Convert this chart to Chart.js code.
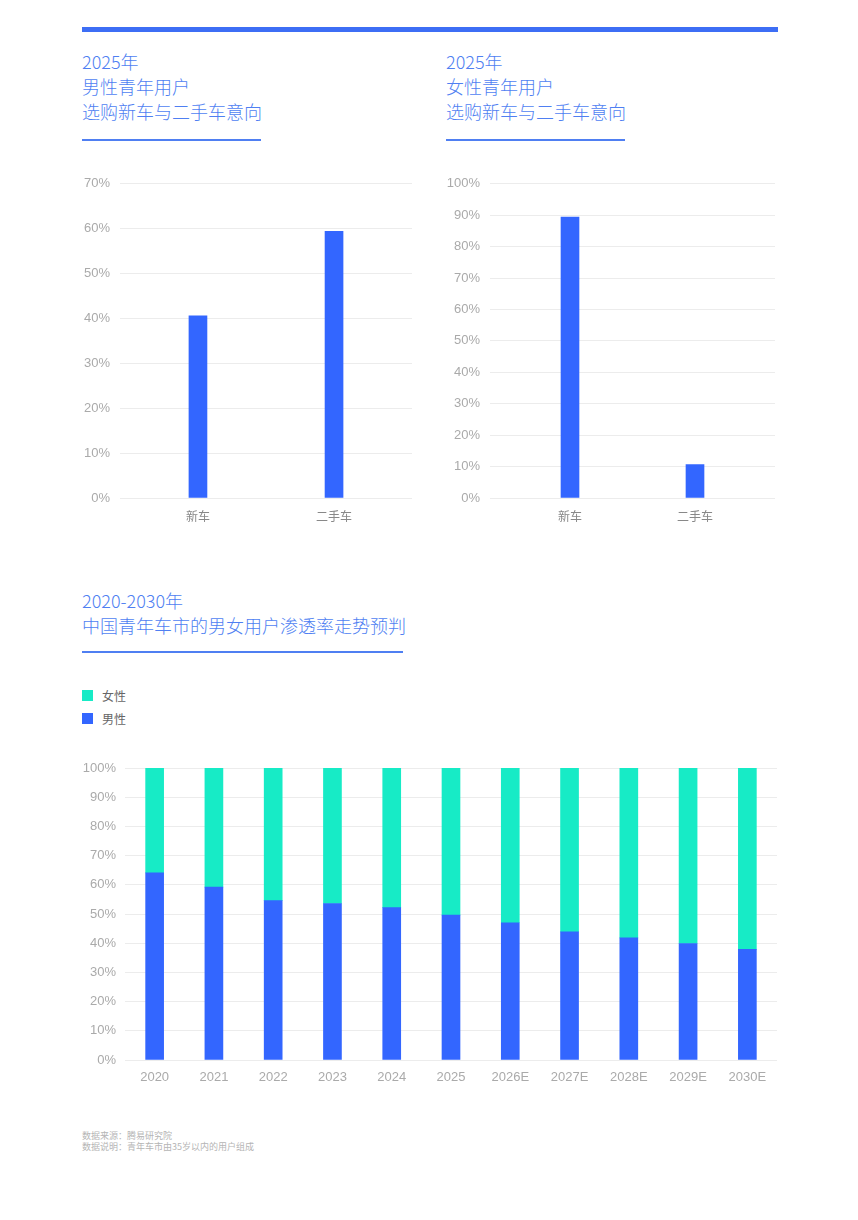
<!DOCTYPE html>
<html>
<head>
<meta charset="utf-8">
<script src="https://cdn.jsdelivr.net/npm/chart.js@4.4.1/dist/chart.umd.min.js"></script>
<style>
  html, body { margin: 0; padding: 0; background: #fff; }
  body { width: 858px; height: 1220px; position: relative; overflow: hidden;
         font-family: "Noto Sans CJK SC", "Noto Sans", sans-serif; }
  .topbar { position: absolute; left: 82px; top: 27px; width: 696px; height: 5px; background: #3d6ef5; }
  .title { position: absolute; color: #4f7ff2; font-size: 18px; line-height: 25px; font-weight: 300; white-space: nowrap; }
  .uline { position: absolute; height: 2px; background: #4f7ff2; }
  .cv { position: absolute; }
  .legend { position: absolute; left: 82px; top: 684px; font-size: 12px; color: #666; }
  .legend div { height: 23px; line-height: 16px; display: flex; align-items: center; }
  .legend span.sw { display: inline-block; width: 11px; height: 11px; margin-right: 9px; }
  .foot { position: absolute; left: 82px; top: 1130px; font-size: 9px; line-height: 11px; color: #b5b5b5; }
</style>
</head>
<body>
<div class="topbar"></div>

<div class="title" style="left:82px; top:49px;">2025年<br>男性青年用户<br>选购新车与二手车意向</div>
<div class="uline" style="left:82px; top:139px; width:179px;"></div>

<div class="title" style="left:446px; top:49px;">2025年<br>女性青年用户<br>选购新车与二手车意向</div>
<div class="uline" style="left:446px; top:139px; width:179px;"></div>

<div class="cv" style="left:70px; top:166px; width:350px; height:374px;"><canvas id="c1"></canvas></div>
<div class="cv" style="left:440px; top:166px; width:350px; height:374px;"><canvas id="c2"></canvas></div>

<div class="title" style="left:82px; top:588px;">2020-2030年<br>中国青年车市的男女用户渗透率走势预判</div>
<div class="uline" style="left:82px; top:651px; width:321px;"></div>

<div class="legend" id="legend"></div>

<div class="cv" style="left:70px; top:750px; width:720px; height:340px;"><canvas id="c3"></canvas></div>

<div class="foot">数据来源：腾易研究院<br>数据说明：青年车市由35岁以内的用户组成</div>

<script>
// ---- data ----
const carTypes = ["新车", "二手车"];
const maleIntent = [40.6, 59.4];
const femaleIntent = [89.4, 10.6];

const years = ["2020", "2021", "2022", "2023", "2024", "2025", "2026E", "2027E", "2028E", "2029E", "2030E"];
const maleShare = [64.1, 59.2, 54.6, 53.6, 52.2, 49.6, 47.0, 43.9, 41.8, 39.9, 37.9];
const femaleShare = [35.9, 40.8, 45.4, 46.4, 47.8, 50.4, 53.0, 56.1, 58.2, 60.1, 62.1];

const seriesNames = ["男性", "女性"];
const BLUE = "#3366ff";
const TEAL = "#17ebc6";
const GRID = "#ececec";
const TICK = "#aaaaaa";
const FONT = '"Noto Sans CJK SC", "Noto Sans", sans-serif';
const NUMFONT = '"Liberation Sans", Arial, sans-serif';

function smallChart(id, values, maxV, stepV, spread, padRight) {
  return new Chart(document.getElementById(id), {
    type: "bar",
    data: { labels: carTypes, datasets: [{ data: values, backgroundColor: BLUE, barThickness: 18 }] },
    options: {
      responsive: true, maintainAspectRatio: false, animation: false,
      layout: { padding: { top: 9, right: padRight, bottom: 0, left: 0 } },
      plugins: { legend: { display: false }, tooltip: { enabled: false } },
      scales: {
        x: {
          grid: { display: false }, border: { display: false },
          ticks: { color: "#888", font: { family: FONT, size: 12 }, padding: 3 },
          afterFit: s => { s.height = 42; },
          afterBuildTicks: s => { s._startValue = -0.5 - spread; s._valueRange = 2 + 2 * spread; }
        },
        y: {
          min: 0, max: maxV,
          grid: { color: GRID, drawTicks: false }, border: { display: false },
          ticks: { stepSize: stepV, color: TICK, font: { family: NUMFONT, size: 13 }, padding: 10,
                   callback: v => v + "%" },
          afterFit: s => { s.width = 50; }
        }
      }
    }
  });
}

smallChart("c1", maleIntent, 70, 10, 0.073, 8);
smallChart("c2", femaleIntent, 100, 10, 0.14, 15);

new Chart(document.getElementById("c3"), {
  type: "bar",
  data: {
    labels: years,
    datasets: [
      { label: seriesNames[0], data: maleShare, backgroundColor: BLUE, barThickness: 18 },
      { label: seriesNames[1], data: femaleShare, backgroundColor: TEAL, barThickness: 18 }
    ]
  },
  options: {
    responsive: true, maintainAspectRatio: false, animation: false,
    layout: { padding: { top: 18, right: 13, bottom: 0, left: 0 } },
    plugins: { legend: { display: false }, tooltip: { enabled: false } },
    scales: {
      x: {
        stacked: true,
        grid: { display: false }, border: { display: false },
        ticks: { color: TICK, font: { family: NUMFONT, size: 13 }, padding: 2 },
        afterFit: s => { s.height = 30; }
      },
      y: {
        stacked: true, min: 0, max: 100,
        grid: { color: GRID, drawTicks: false }, border: { display: false },
        ticks: { stepSize: 10, color: TICK, font: { family: NUMFONT, size: 13 }, padding: 9,
                 callback: v => v + "%" },
        afterFit: s => { s.width = 55; }
      }
    }
  }
});

// HTML legend (女性 first, then 男性)
const leg = document.getElementById("legend");
[[seriesNames[1], TEAL], [seriesNames[0], BLUE]].forEach(([name, col]) => {
  const d = document.createElement("div");
  d.innerHTML = '<span class="sw" style="background:' + col + '"></span>' + name;
  leg.appendChild(d);
});
</script>
</body>
</html>
